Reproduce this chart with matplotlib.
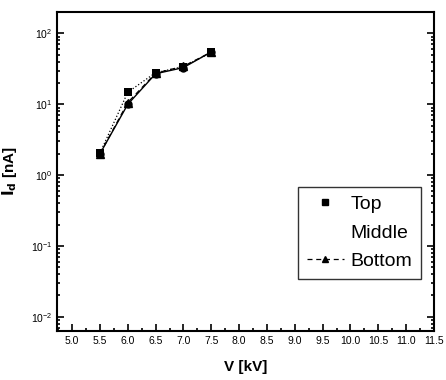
import matplotlib.pyplot as plt
from matplotlib.lines import Line2D
from matplotlib.ticker import MultipleLocator, LogLocator, NullFormatter

plt.rcParams['font.family'] = ['Liberation Sans', 'DejaVu Sans']

# voltage [kV] and dark current [nA]
V = [5.5, 6.0, 6.5, 7.0, 7.5]
top = [2.05, 14.8, 28.0, 34.0, 54.0]
middle = [2.0, 10.0, 27.0, 33.0, 55.0]
bottom = [2.0, 10.6, 27.5, 34.5, 54.5]

xticks = [5.0, 5.5, 6.0, 6.5, 7.0, 7.5, 8.0, 8.5, 9.0, 9.5, 10.0, 10.5, 11.0, 11.5]

fig = plt.figure(figsize=(4.46, 3.8), dpi=100)
ax = fig.add_axes([0.128, 0.129, 0.845, 0.839])

ax.plot(V, middle, color='black', lw=1.0, ls='-', marker='o', ms=5)
ax.plot(V, top, color='black', lw=0.9, ls=':', marker='s', ms=6, markeredgewidth=0)
ax.plot(V, bottom, color='black', lw=0.9, ls='--', dashes=(4, 3), marker='^', ms=6)

ax.set_yscale('log')
ax.set_xlim(4.73, 11.5)
ax.set_ylim(0.0063, 200)

ax.set_xticks(xticks)
ax.set_xticklabels([f"{t:.1f}" for t in xticks])
ax.xaxis.set_minor_locator(MultipleLocator(0.25))
ax.yaxis.set_major_locator(LogLocator(base=10, numticks=10))
ax.yaxis.set_minor_locator(LogLocator(base=10, subs=range(2, 10), numticks=10))
ax.yaxis.set_minor_formatter(NullFormatter())

ax.tick_params(which='both', direction='in', top=False, right=True, labelsize=7.5, width=1.2)
ax.tick_params(which='major', length=5)
ax.tick_params(which='minor', length=2.5)
for s in ax.spines.values():
    s.set_linewidth(1.5)

ax.set_xlabel('V [kV]', fontsize=11, fontweight='bold', labelpad=10)
ax.set_ylabel(r'$\mathbf{I_d}$ [nA]', fontsize=11, fontweight='bold', labelpad=8)

handles = [
    Line2D([], [], color='black', ls='none', marker='s', ms=5),
    Line2D([], [], color='none', ls='none'),
    Line2D([], [], color='black', ls='--', dashes=(4, 3), lw=0.9, marker='^', ms=5),
]
leg = ax.legend(handles, ['Top', 'Middle', 'Bottom'], loc='upper left',
                bbox_to_anchor=(0.639, 0.452), borderaxespad=0, fontsize=14, frameon=True,
                fancybox=False, edgecolor='black', handlelength=1.9,
                handletextpad=0.35, borderpad=0.45, labelspacing=0.55)
leg.get_frame().set_linewidth(1.0)

fig.savefig('out.png', dpi=100)
